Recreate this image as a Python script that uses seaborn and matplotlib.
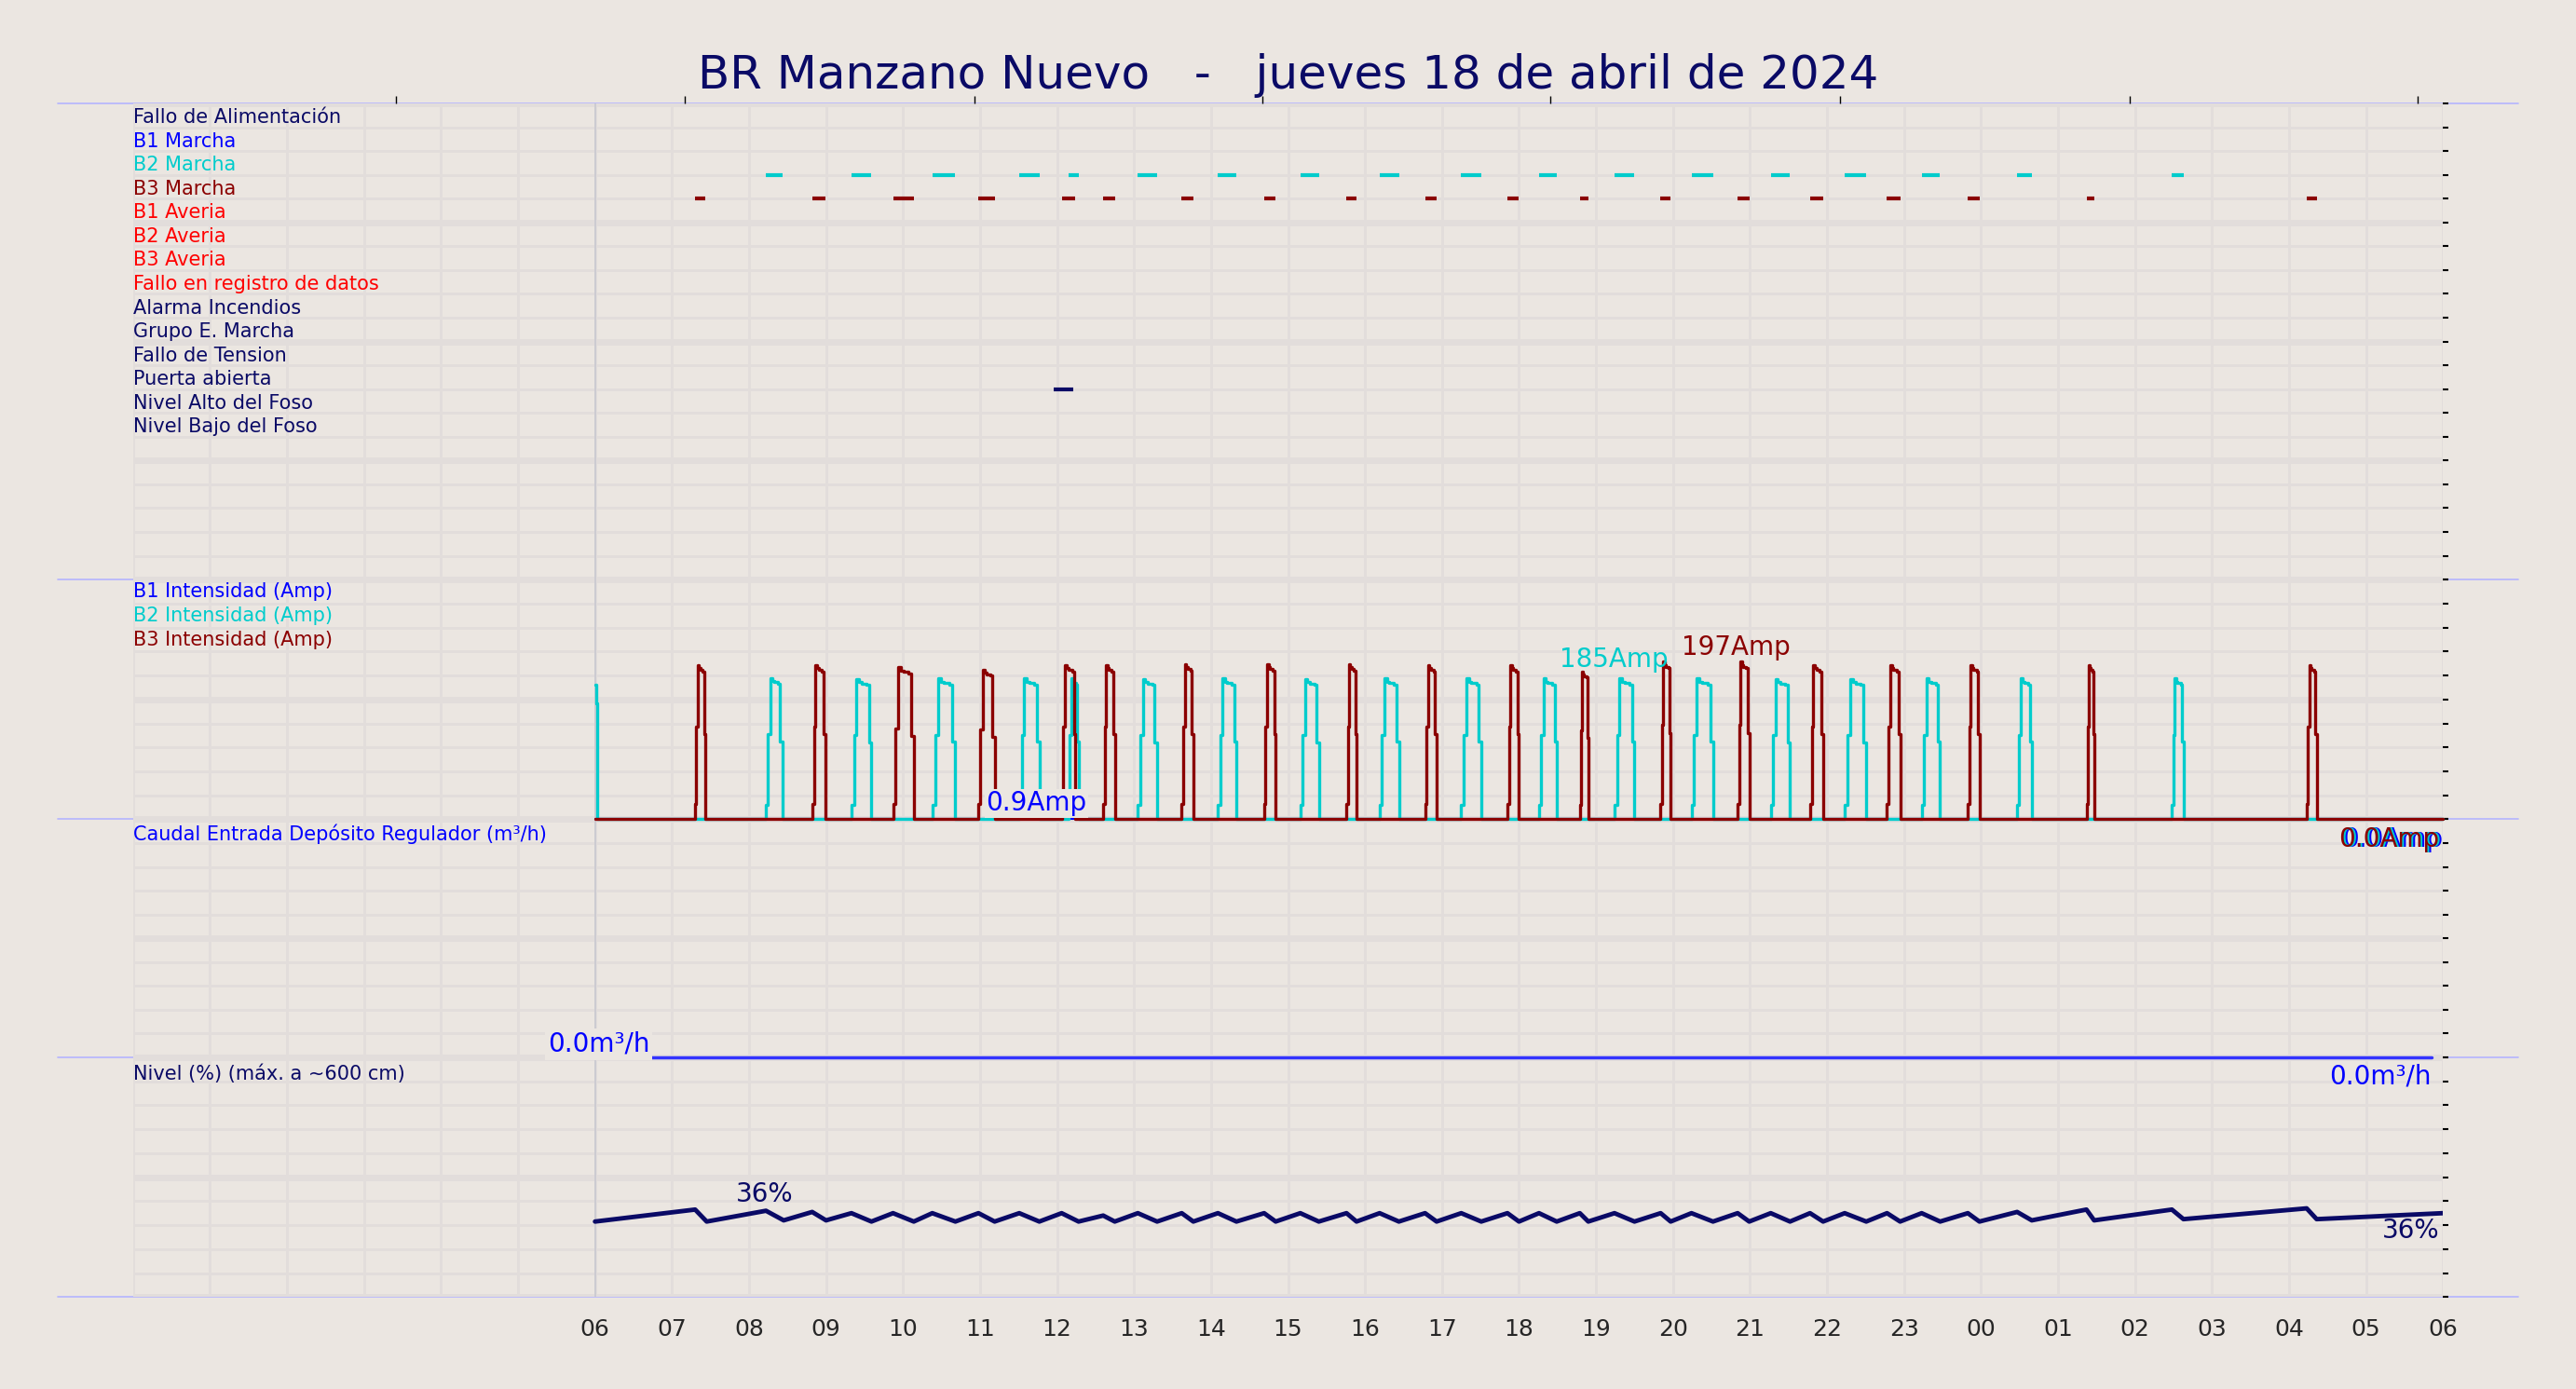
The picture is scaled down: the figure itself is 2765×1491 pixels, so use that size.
import numpy as np
import matplotlib
matplotlib.use("Agg")
import matplotlib.pyplot as plt
from matplotlib.lines import Line2D
import seaborn as sns

sns.set_theme(style="white")
plt.rcParams['font.family'] = ['DejaVu Sans']

BG = "#ebe6e1"
GRID = "#e2dddb"
NAVY = "#0a0a66"
CYAN = "#00cccc"
DRED = "#8b0000"

title = "BR Manzano Nuevo   -   jueves 18 de abril de 2024"

signal_names = ["Fallo de Alimentación", "B1 Marcha", "B2 Marcha", "B3 Marcha",
                "B1 Averia", "B2 Averia", "B3 Averia", "Fallo en registro de datos",
                "Alarma Incendios", "Grupo E. Marcha", "Fallo de Tension",
                "Puerta abierta", "Nivel Alto del Foso", "Nivel Bajo del Foso"]
signal_colors = [NAVY, "blue", CYAN, DRED, "red", "red", "red", "red",
                 NAVY, NAVY, NAVY, NAVY, NAVY, NAVY]

# pump runs (hours since midnight, 24+ = next day)
b2_start = [8.22, 9.33, 10.38, 11.51, 12.15, 13.05, 14.09, 15.16, 16.19, 17.25,
            18.26, 19.24, 20.24, 21.27, 22.23, 23.23, 24.47, 26.48]
b2_end = [8.43, 9.59, 10.68, 11.77, 12.28, 13.30, 14.33, 15.40, 16.44, 17.51,
          18.49, 19.50, 20.52, 21.52, 22.51, 23.47, 24.66, 26.63]
b2_peak = [177, 175, 176, 176, 176, 175, 176, 175, 176, 176,
           176, 176, 176, 175, 175, 176, 176, 176]
b3_start = [7.30, 8.82, 9.87, 10.98, 12.06, 12.60, 13.62, 14.69, 15.76, 16.78,
            17.85, 18.79, 19.84, 20.84, 21.78, 22.78, 23.83, 25.37, 28.23]
b3_end = [7.43, 8.99, 10.14, 11.19, 12.24, 12.75, 13.77, 14.84, 15.89, 16.93,
          18.00, 18.90, 19.97, 20.99, 21.95, 22.95, 23.98, 25.47, 28.36]
b3_peak = [193, 193, 190, 187, 193, 193, 194, 194, 194, 193,
           193, 185, 197, 197, 193, 193, 193, 193, 193]
# typical current profile over a run (fraction of peak)
pulse_shape = [0.1, 0.6, 1.0, 0.98, 0.97, 0.97, 0.96, 0.55, 0.0]

door_start, door_end = 11.96, 12.21

flow_t = [6.0, 29.85]
flow_v = [0.0, 0.0]

level_t = [6.0, 7.30, 7.45, 8.22, 8.45, 8.82, 9.00, 9.33, 9.59, 9.87, 10.14,
           10.38, 10.68, 10.98, 11.19, 11.51, 11.77, 12.06, 12.28, 12.60, 12.75,
           13.05, 13.30, 13.62, 13.77, 14.09, 14.33, 14.69, 14.84, 15.16, 15.40,
           15.76, 15.89, 16.19, 16.44, 16.78, 16.93, 17.25, 17.51, 17.85, 18.00,
           18.26, 18.49, 18.79, 18.90, 19.24, 19.50, 19.84, 19.97, 20.24, 20.52,
           20.84, 20.99, 21.27, 21.52, 21.78, 21.95, 22.23, 22.51, 22.78, 22.95,
           23.23, 23.47, 23.83, 23.98, 24.47, 24.66, 25.37, 25.47, 26.48, 26.63,
           28.23, 28.36, 30.0]
level_v = [31.5, 36.5, 31.5, 36.0, 32.0, 35.5, 32.0, 35.0, 31.5, 35.0, 31.5,
           35.0, 31.5, 35.0, 31.5, 35.0, 31.5, 35.0, 31.5, 34.0, 31.5,
           35.0, 31.5, 35.0, 31.5, 35.0, 31.5, 35.0, 31.5, 35.0, 31.5,
           35.0, 31.5, 35.0, 31.5, 35.0, 31.5, 35.0, 31.5, 35.0, 31.5,
           35.0, 31.5, 35.0, 31.5, 35.0, 31.5, 35.0, 31.5, 35.0, 31.5,
           35.0, 31.5, 35.0, 31.5, 35.0, 31.5, 35.0, 31.5, 35.0, 31.5,
           35.0, 31.5, 35.0, 31.5, 35.5, 32.0, 36.5, 32.0, 36.5, 32.5,
           37.0, 32.5, 35.0]

hour_ticks = list(range(6, 31))
hour_labels = ["%02d" % (h % 24) for h in hour_ticks]

LBL = 15
VAL = 20


def profile(starts, ends, peaks, t0=6.0, t1=30.0):
    t, v = [t0], [0.0]
    for s, e, p in zip(starts, ends, peaks):
        edges = np.linspace(s, e, len(pulse_shape))
        t.extend(edges)
        v.extend([p * f for f in pulse_shape])
    t.append(t1)
    v.append(0.0)
    return np.array(t), np.array(v)


fig = plt.figure(figsize=(27.65, 14.91), dpi=100, facecolor=BG)
gs = fig.add_gridspec(4, 1, height_ratios=[290, 146, 145, 146], hspace=0,
                      left=81 / 1568, right=1487 / 1568, top=1 - 63 / 846, bottom=1 - 790 / 846)
axes = [fig.add_subplot(gs[i]) for i in range(4)]
limits = [(20, 0), (0, 300), (0, 10), (0, 100)]
minor = [1, 30, 1, 10]
major = [5, 150, 5, 50]
for i, (ax, lim, mn, mj) in enumerate(zip(axes, limits, minor, major)):
    ax.set_zorder(10 - i)
    ax.set_facecolor("none")
    ax.set_xlim(0, 30)
    ax.set_ylim(*lim)
    lo, hi = min(lim), max(lim)
    for y in np.arange(lo, hi + 0.01, mn):
        thick = abs((y / mj) - round(y / mj)) < 1e-6
        ax.axhline(y, color=GRID, lw=5 if thick else 2, zorder=0)
    for x in range(0, 31):
        ax.axvline(x, color=GRID, lw=2, zorder=0)
    ax.axvline(6, color="#c8c8d0", lw=1.2, zorder=1)
    for s in ax.spines.values():
        s.set_visible(False)
    ax.set_yticks(np.arange(lo, hi + 0.01, mn))
    ax.yaxis.tick_right()
    ax.tick_params(axis="y", right=True, labelright=False, length=4, width=1.5, color="black")
    ax.set_xticks(hour_ticks)
    ax.tick_params(axis="x", bottom=False, labelbottom=False)

axes[-1].tick_params(axis="x", labelbottom=True, labelsize=18, pad=10)
axes[-1].set_xticklabels(hour_labels)

# panel 1: digital signals
ax = axes[0]
for i, (name, col) in enumerate(zip(signal_names, signal_colors)):
    ax.text(0.0, i + 0.98, name, color=col, fontsize=LBL, va="bottom", ha="left")
ax.hlines([3] * len(b2_start), b2_start, b2_end, color=CYAN, lw=3)
ax.hlines([4] * len(b3_start), b3_start, b3_end, color=DRED, lw=3)
ax.hlines(12, door_start, door_end, color=NAVY, lw=3)
top = ax.secondary_xaxis("top")
top.set_xticks([3.42, 7.17, 10.93, 14.67, 18.41, 22.17, 25.93, 29.67])
top.set_xticklabels([])
top.tick_params(length=6, width=1, color="black")
for s in top.spines.values():
    s.set_visible(False)

# panel 2: currents
ax = axes[1]
t2, v2 = profile(b2_start, b2_end, b2_peak)
t2 = np.concatenate([[6.0, 6.01, 6.03], t2[1:]])
v2 = np.concatenate([[168, 145, 0.0], v2[1:]])
t3, v3 = profile(b3_start, b3_end, b3_peak)
ax.plot([6, 30], [0.9, 0.9], color="blue", lw=1.5, clip_on=False)
ax.step(t2, v2, where="post", color=CYAN, lw=2.4, clip_on=False)
ax.step(t3, v3, where="post", color=DRED, lw=2.4, clip_on=False)
for i, (name, col) in enumerate(zip(["B1 Intensidad (Amp)", "B2 Intensidad (Amp)", "B3 Intensidad (Amp)"],
                                    ["blue", CYAN, DRED])):
    ax.text(0.0, 300 - 30 * (i + 1) + 3, name, color=col, fontsize=LBL, va="bottom")
ax.text(18.53, 183, "185Amp", color=CYAN, fontsize=VAL, va="bottom")
ax.text(20.11, 199, "197Amp", color=DRED, fontsize=VAL, va="bottom")
ax.text(11.08, 20, "0.9Amp", color="blue", fontsize=VAL, va="center", zorder=5,
        bbox=dict(facecolor=BG, edgecolor="none", pad=1))
for col, dx in [("blue", 0.0), (CYAN, -0.02), (DRED, -0.05)]:
    ax.text(30 + dx, -25, "0.0Amp", color=col, fontsize=VAL, ha="right", va="center",
            clip_on=False, zorder=5)

# panel 3: flow
ax = axes[2]
sns.lineplot(x=flow_t, y=flow_v, ax=ax, color="#3333ff", lw=2.5, clip_on=False)
ax.text(0.0, 9.4, "Caudal Entrada Depósito Regulador (m³/h)", color="blue", fontsize=LBL, va="center")
ax.text(6.05, 0.55, "0.0m³/h", color="blue", fontsize=VAL, ha="center", va="center", zorder=5,
        bbox=dict(facecolor=BG, edgecolor="none", pad=2))
ax.text(29.85, -0.8, "0.0m³/h", color="blue", fontsize=VAL, ha="right", va="center",
        clip_on=False, zorder=5)

# panel 4: level
ax = axes[3]
sns.lineplot(x=level_t, y=level_v, ax=ax, color=NAVY, lw=3.5)
ax.text(0.0, 93, "Nivel (%) (máx. a ~600 cm)", color=NAVY, fontsize=LBL, va="center")
ax.text(8.2, 37.5, "36%", color=NAVY, fontsize=VAL, ha="center", va="bottom")
ax.text(29.95, 33, "36%", color=NAVY, fontsize=VAL, ha="right", va="top")
for ax in axes:
    ax.set_xlabel("")
    ax.set_ylabel("")

for y in [63, 353, 499, 644, 790]:
    fig.add_artist(Line2D([35 / 1568, 1533 / 1568], [1 - y / 846] * 2, color="#b4b4ff", lw=1.2,
                          transform=fig.transFigure, zorder=0.5))

fig.suptitle(title, color=NAVY, fontsize=36, y=1 - 46 / 846, va="center")
fig.savefig("out.png", dpi=100, facecolor=BG)
